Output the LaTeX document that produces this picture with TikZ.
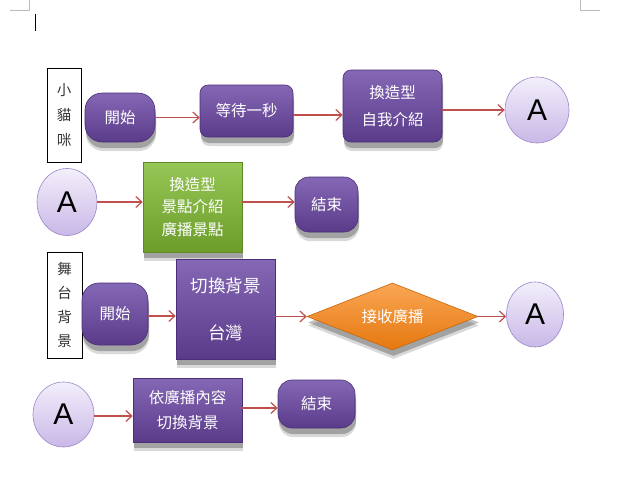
\documentclass[tikz,border=0pt]{standalone}
\usepackage{fontspec}
\newfontfamily\cjk{Noto Sans CJK TC}
\newfontfamily\afont{Liberation Sans}
\usetikzlibrary{shapes.geometric,arrows.meta,shadows}
\definecolor{purT}{HTML}{8568B5}
\definecolor{purB}{HTML}{5A3B8A}
\definecolor{purD}{HTML}{4A2F78}
\definecolor{grnT}{HTML}{96C655}
\definecolor{grnB}{HTML}{6C9C2A}
\definecolor{grnD}{HTML}{5E8A24}
\definecolor{orgT}{HTML}{FAA654}
\definecolor{orgB}{HTML}{E5780F}
\definecolor{orgD}{HTML}{C8660A}
\definecolor{lavT}{HTML}{F3EFFB}
\definecolor{lavB}{HTML}{C9B8E7}
\definecolor{lavD}{HTML}{9C86C9}
\definecolor{arrR}{HTML}{C0504D}
\definecolor{markG}{HTML}{BBBBBB}
\tikzset{
  shad/.style={drop shadow={shadow xshift=1pt,shadow yshift=-9pt,opacity=.15,fill=black},
               drop shadow={shadow xshift=1pt,shadow yshift=-6pt,opacity=.25,fill=black}},
  purbox/.style={shad,draw=purD,line width=.6pt,top color=purT,bottom color=purB,
     text=white,inner sep=0pt,align=center,font=\cjk\fontsize{15.5}{27}\selectfont},
  grnbox/.style={shad,draw=grnD,line width=.6pt,top color=grnT,bottom color=grnB,
     text=white,inner sep=0pt,align=center,font=\cjk\fontsize{15.5}{22.5}\selectfont},
  orgdia/.style={shad,diamond,draw=orgD,line width=.6pt,top color=orgT,bottom color=orgB,
     text=white,inner sep=0pt,font=\cjk\fontsize{15.5}{18}\selectfont},
  acirc/.style={ellipse,draw=lavD,line width=.6pt,top color=lavT,bottom color=lavB,
     inner sep=0pt,font=\afont\fontsize{30}{30}\selectfont},
  vbox/.style={draw=black,line width=.6pt,fill=white,inner sep=0pt,align=center,
     text=black!80,font=\cjk\fontsize{14.5}{25}\selectfont},
  arr/.style={draw=arrR,line width=1.2pt,-{Straight Barb[length=6pt,width=11pt]}},
  pagemark/.style={draw=markG,line width=.6pt}
}
\begin{document}
\begin{tikzpicture}[x=1pt,y=-1pt]
\useasboundingbox[fill=white] (0,0) rectangle (640,490);
% page corner marks and cursor
\draw[pagemark] (10,10) -- (29,10) -- (29,0);
\draw[pagemark] (580,0) -- (580,10) -- (600,10);
\draw[black,line width=1pt] (35,14) -- (35,31);
% row 1
\node[vbox,minimum width=34,minimum height=94] (cat) at (64,115) {小\\貓\\咪};
\node[purbox,rounded corners=17pt,minimum width=70,minimum height=49] (start1) at (120,117.5) {開始};
\node[purbox,rounded corners=8pt,minimum width=93,minimum height=52] (wait) at (246.5,111) {等待一秒};
\node[purbox,rounded corners=8pt,minimum width=99,minimum height=72] (chg1) at (392.5,106) {換造型\\自我介紹};
\node[acirc,minimum width=64,minimum height=66] (A1) at (537,110) {A};
\draw[arr] (start1.east) -- (start1.east -| wait.west);
\draw[arr] (wait.east |- 0,115) coordinate (w1) -- (w1 -| chg1.west);
\draw[arr] (chg1.east |- A1) -- (A1.west);
% row 2
\node[acirc,minimum width=60,minimum height=67] (A2) at (67,202) {A};
\node[grnbox,minimum width=99,minimum height=90] (green) at (192.5,207) {換造型\\景點介紹\\廣播景點};
\node[purbox,rounded corners=14pt,minimum width=63,minimum height=55] (end1) at (326.5,204.5) {結束};
\draw[arr] (A2.east) -- (A2.east -| green.west);
\draw[arr] (green.east |- A2) -- (A2 -| end1.west);
% row 3
\node[vbox,minimum width=35,minimum height=106,font=\cjk\fontsize{14.5}{24}\selectfont] (stage) at (64.5,305) {舞\\台\\背\\景};
\node[purbox,rounded corners=17pt,minimum width=66,minimum height=62] (start2) at (115,314) {開始};
\node[purbox,minimum width=99,minimum height=100,font=\cjk\fontsize{17.5}{47}\selectfont] (bg) at (225.5,309) {切換背景\\台灣};
\node[orgdia,minimum width=171,minimum height=67,aspect=2.55] (dia) at (392.5,316.5) {接收廣播};
\node[acirc,minimum width=57,minimum height=65] (A3) at (535,314.5) {A};
\draw[arr] (start2.east |- 0,316) coordinate (s2) -- (s2 -| bg.west);
\draw[arr] (bg.east |- dia) -- (dia.west);
\draw[arr] (dia.east) -- (dia.east -| A3.west);
% row 4
\node[acirc,minimum width=61,minimum height=65] (A4) at (63.5,414.5) {A};
\node[purbox,minimum width=109,minimum height=64,font=\cjk\fontsize{15.5}{25}\selectfont] (seq) at (187.5,410) {依廣播內容\\切換背景};
\node[purbox,rounded corners=14pt,minimum width=77,minimum height=48] (end2) at (316.5,404) {結束};
\draw[arr] (A4.east |- 0,416) coordinate (a4) -- (a4 -| seq.west);
\draw[arr] (seq.east |- 0,408) coordinate (q4) -- (q4 -| end2.west);
\end{tikzpicture}
\end{document}
